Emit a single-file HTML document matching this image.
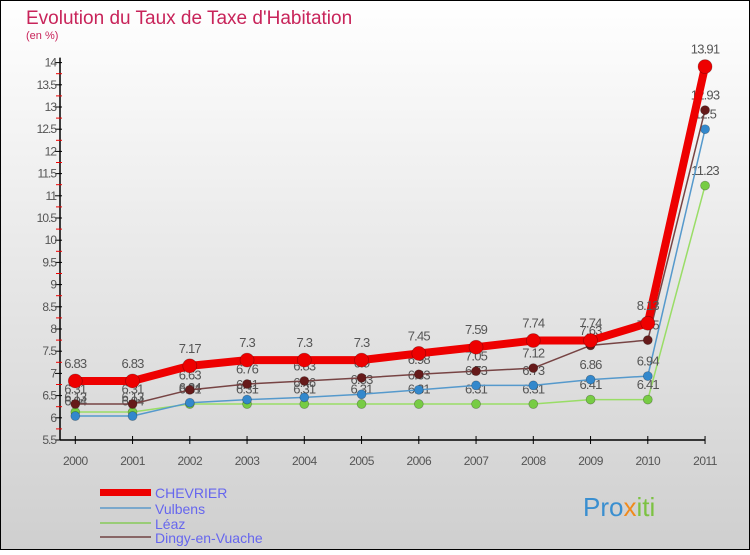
<!DOCTYPE html>
<html><head><meta charset="utf-8"><style>
body{margin:0;width:750px;height:550px;overflow:hidden;font-family:"Liberation Sans",sans-serif}
svg text{font-family:"Liberation Sans",sans-serif}
</style></head><body>
<svg id="c" width="750" height="550" xmlns="http://www.w3.org/2000/svg">
<defs><linearGradient id="bg" x1="0" y1="0" x2="0" y2="1"><stop offset="0" stop-color="#ffffff"/><stop offset="1" stop-color="#cfcfcf"/></linearGradient></defs>
<rect x="0.5" y="0.5" width="749" height="549" fill="url(#bg)" stroke="#000"/>
<text x="26" y="24" font-size="19" fill="#c8245a">Evolution du Taux de Taxe d'Habitation</text>
<text x="26" y="39" font-size="11" fill="#c8245a">(en %)</text>
<g id="axes"></g><g id="series"></g>
<g>
<rect x="100" y="489" width="51" height="7" fill="#e00"/>
<text x="155" y="498" font-size="14" fill="#6666ee">CHEVRIER</text>
<rect x="100" y="507" width="51" height="2" fill="#7aa8cc"/>
<text x="155" y="514" font-size="14" fill="#6666ee">Vulbens</text>
<rect x="100" y="522" width="51" height="2" fill="#99cc77"/>
<text x="155" y="529" font-size="14" fill="#6666ee">Léaz</text>
<rect x="100" y="536" width="51" height="2" fill="#886666"/>
<text x="155" y="543" font-size="14" fill="#6666ee">Dingy-en-Vuache</text>
</g>
<text x="583" y="516" font-size="26"><tspan fill="#3a8fd0">Pro</tspan><tspan fill="#f08a1c">x</tspan><tspan fill="#7cc242">iti</tspan></text>
</svg>
<script>
const years=[2000,2001,2002,2003,2004,2005,2006,2007,2008,2009,2010,2011];
const chevrier=[6.83,6.83,7.17,7.3,7.3,7.3,7.45,7.59,7.74,7.74,8.13,13.91];
const vulbens=[6.04,6.04,6.34,6.41,6.46,6.53,6.63,6.73,6.73,6.86,6.94,12.5];
const leaz=[6.13,6.13,6.31,6.31,6.31,6.31,6.31,6.31,6.31,6.41,6.41,11.23];
const dingy=[6.31,6.31,6.63,6.76,6.83,6.9,6.98,7.05,7.12,7.63,7.75,12.93];
const yTicks=[5.5,6,6.5,7,7.5,8,8.5,9,9.5,10,10.5,11,11.5,12,12.5,13,13.5,14];
const NS='http://www.w3.org/2000/svg';
const X=i=>75.3+i*57.25;
const Y=v=>440-(v-5.5)*44.4;
function mk(t,a,p){const e=document.createElementNS(NS,t);for(const k in a)e.setAttribute(k,a[k]);p.appendChild(e);return e;}
const ax=document.getElementById('axes');
let l=mk('line',{x1:60,y1:Y(14)-5,x2:60,y2:440,stroke:'#000','stroke-width':1.5},ax);


l=mk('line',{x1:60,y1:440,x2:X(11),y2:440,stroke:'#000','stroke-width':1.5},ax);


yTicks.forEach(v=>{
 mk('line',{x1:55,y1:Y(v),x2:62,y2:Y(v),stroke:'#000'},ax);
 if(v<14)mk('line',{x1:56,y1:Y(v+0.25),x2:62,y2:Y(v+0.25),stroke:'#e00'},ax);
 const t=mk('text',{x:56,y:Y(v)+4,'font-size':12,'text-anchor':'end',fill:'#555','letter-spacing':'-1'},ax);
 t.textContent=v;
 
 
});
years.forEach((y,i)=>{
 mk('line',{x1:X(i),y1:436,x2:X(i),y2:444,stroke:'#000'},ax);
 const t=mk('text',{x:X(i),y:465,'font-size':12,'text-anchor':'middle',fill:'#555','letter-spacing':'-0.5'},ax);
 t.textContent=y;
 
 
});
const sg=document.getElementById('series');
function series(vals,color,w,r,name,dot){
 const g=mk('g',{},sg);
 
 
 const pl=mk('polyline',{points:vals.map((v,i)=>X(i)+','+Y(v)).join(' '),fill:'none',stroke:color,'stroke-width':w,'stroke-linejoin':'round'},g);
 
 
 vals.forEach((v,i)=>{
  const c=mk('circle',{cx:X(i),cy:Y(v),r:r,fill:dot,stroke:'rgba(0,0,0,0.3)','stroke-width':0.7},g);
  
  
  const t=mk('text',{x:X(i),y:Y(v)-r-6,'font-size':13,'text-anchor':'middle',fill:'#555','letter-spacing':'-0.8'},g);
  t.textContent=v;
  
  
 });
}
series(leaz,'#99dd66',1.5,4.5,'leaz','#77cc44');
series(vulbens,'#5599cc',1.5,4.5,'vulbens','#3388cc');
series(dingy,'#774444',1.5,4.5,'dingy','#661a1a');
series(chevrier,'#ee0000',8,7,'chevrier','#ee0000');
</script>
</body></html>
